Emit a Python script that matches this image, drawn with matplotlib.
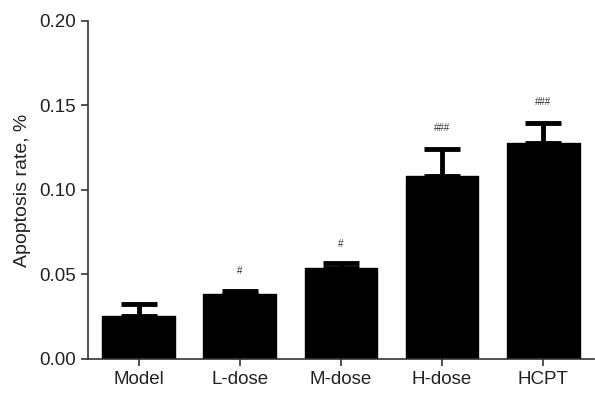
import matplotlib
matplotlib.use("Agg")
import matplotlib.pyplot as plt

groups = ["Model", "L-dose", "M-dose", "H-dose", "HCPT"]
rate = [0.0254, 0.0385, 0.0540, 0.1082, 0.1278]
err = [0.0070, 0.0017, 0.0025, 0.0160, 0.0118]
marks = ["", "#", "#", "###", "###"]
mark_y = [None, 0.052, 0.068, 0.1365, 0.152]

plt.rcParams["font.family"] = ["Liberation Sans", "DejaVu Sans"]
AX = "#333333"

fig = plt.figure(figsize=(5.95, 3.94), dpi=100)
ax = fig.add_axes([0.148, 0.089, 0.85, 0.858])

x = range(len(groups))
ax.bar(x, rate, width=0.72, color="black", edgecolor="black",
       linewidth=1, joinstyle="round", zorder=2)
ax.errorbar(x, rate, yerr=[[0] * len(err), err], fmt="none", ecolor="black",
            elinewidth=3.5, capsize=13, capthick=3.5, zorder=3)
for xi, m, my in zip(x, marks, mark_y):
    if m:
        ax.text(xi, my, m, ha="center", va="center", fontsize=7, color="#333333")

ax.set_xlim(-0.5, 4.5)
ax.set_ylim(0, 0.20)
ax.set_yticks([0.00, 0.05, 0.10, 0.15, 0.20])
ax.set_yticklabels(["0.00", "0.05", "0.10", "0.15", "0.20"])
ax.set_xticks(list(x))
ax.set_xticklabels(groups)
ax.set_ylabel("Apoptosis rate, %", fontsize=14, color="#222222", labelpad=6)
ax.tick_params(axis="both", labelsize=13.5, colors=AX, length=5, width=1.2,
               direction="out", labelcolor="#222222")
for s in ("top", "right"):
    ax.spines[s].set_visible(False)
for s in ("left", "bottom"):
    ax.spines[s].set_color(AX)
    ax.spines[s].set_linewidth(1.2)

fig.savefig("out.png", dpi=100, facecolor="white")
